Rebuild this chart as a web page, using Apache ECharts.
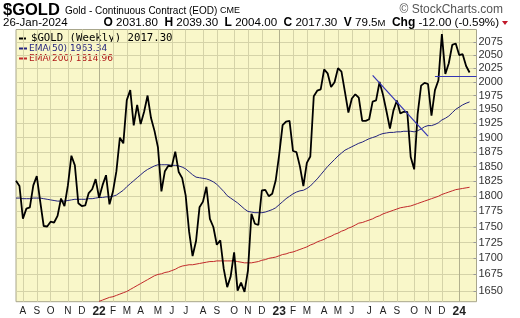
<!DOCTYPE html>
<html><head><meta charset="utf-8">
<script src="https://cdn.jsdelivr.net/npm/echarts@6/dist/echarts.min.js"></script>
<style>html,body{margin:0;padding:0;background:#fff}#c{width:520px;height:318px}</style>
</head><body><div id="c"></div>
<script>
// ---- data (weekly closes, first week ending 2021-07-23) ----
const firstWeek = [2021, 6, 23];
const closes = [
1826.0,1817.2,1763.1,1779.7,1781.8,1818.1,1833.7,1791.0,1751.4,1750.6,
1758.4,1757.0,1767.8,1796.3,1783.9,1818.4,1868.5,1852.0,1788.4,1783.9,
1784.8,1805.3,1811.7,1828.6,1797.4,1818.5,1835.3,1786.6,1807.8,1842.1,
1899.7,1889.9,1966.6,1985.0,1921.5,1957.9,1923.6,1945.6,1974.9,1934.3,
1911.7,1882.8,1808.2,1842.1,1851.3,1850.2,1875.5,1840.6,1830.3,1801.5,
1742.3,1703.6,1727.4,1781.8,1791.2,1815.8,1762.9,1749.8,1721.5,1728.6,
1683.5,1655.6,1672.0,1709.3,1650.2,1662.4,1648.3,1681.4,1771.3,1755.0,
1753.0,1809.6,1810.7,1800.2,1804.2,1826.2,1869.7,1921.7,1928.2,1929.4,
1876.6,1874.6,1850.2,1817.1,1856.3,1867.2,1973.5,1983.8,1986.2,2023.0,
2015.8,1990.5,1999.1,2025.3,2019.0,1981.6,1944.3,1969.6,1977.2,1971.0,
1929.4,1929.4,1932.3,1964.0,1966.1,1999.7,1976.1,1946.6,1915.8,1947.6,
1965.9,1942.7,1945.6,1945.6,1866.1,1845.2,1941.5,1993.0,1998.0,1996.0,
1938.5,1984.7,2003.0,2089.7,2014.5,2034.5,2069.1,2071.8,2049.8,2051.6,
2029.3,2017.3];
const ema50 = [
1797,1797,1796,1796,1796,1797,1797,1797,1796,1795,
1794,1793,1792,1792,1792,1793,1794,1795,1795,1795,
1795,1796,1796,1797,1798,1798,1799,1799,1800,1802,
1806,1810,1816,1821,1826,1831,1836,1841,1845,1848,
1851,1853,1853,1853,1853,1852,1852,1851,1849,1846,
1841,1836,1832,1831,1830,1829,1827,1824,1820,1814,
1808,1801,1797,1793,1789,1784,1779,1775,1774,1773,
1773,1773,1774,1776,1778,1781,1786,1791,1796,1800,
1804,1807,1809,1810,1813,1817,1823,1829,1836,1843,
1850,1856,1862,1868,1873,1878,1881,1884,1887,1890,
1892,1895,1898,1900,1902,1905,1907,1908,1909,1909,
1910,1910,1911,1911,1911,1910,1912,1915,1919,1921,
1921,1923,1926,1931,1934,1938,1944,1950,1954,1958,
1961,1963.34];
const ema200 = [
null,null,null,null,null,null,null,null,null,null,
null,null,null,null,null,null,null,null,null,null,
null,null,null,null,1634,1636,1638,1640,1641,1643,
1645,1647,1649,1652,1655,1658,1661,1664,1667,1670,
1673,1675,1676,1678,1679,1681,1683,1686,1688,1689,
1690,1690,1691,1692,1693,1694,1695,1695,1696,1696,
1696,1696,1696,1696,1695,1694,1693,1693,1693,1694,
1695,1697,1698,1700,1701,1702,1704,1706,1707,1709,
1710,1712,1714,1716,1718,1721,1723,1726,1728,1730,
1733,1735,1738,1740,1743,1745,1748,1750,1753,1756,
1757,1759,1761,1763,1766,1768,1771,1773,1775,1777,
1779,1781,1782,1783,1784,1786,1788,1790,1792,1794,
1796,1798,1800,1803,1805,1807,1809,1811,1812,1813,
1814,1814.96];
const yTicks = [1650,1675,1700,1725,1750,1775,1800,1825,1850,1875,1900,1925,1950,1975,2000,2025,2050,2075];
const monthLetters = ['J','F','M','A','M','J','J','A','S','O','N','D'];
// annotation lines drawn by the author: [week index, price]
const trendDown = [[103, 2012], [119, 1902.6]];
const resistance = [[121, 2011], [133, 2011]];

// ---- categories ----
const weeks = [];
const t0 = Date.UTC(firstWeek[0], firstWeek[1], firstWeek[2]);
for (let i = 0; i < closes.length; i++) weeks.push(new Date(t0 + i * 7 * 864e5).toISOString().slice(0, 10));
const cats = weeks.concat(['pad1', 'pad2']);
function monthStart(i) {
  if (i <= 0 || i >= weeks.length) return false;
  return weeks[i].slice(5, 7) !== weeks[i - 1].slice(5, 7);
}
const isMonth = (i) => monthStart(i) && weeks[i].slice(5, 7) !== '01';
const isYear = (i) => monthStart(i) && weeks[i].slice(5, 7) === '01';

const FONT = '"Liberation Sans", Arial, sans-serif';
const chart = echarts.init(document.getElementById('c'), null, {renderer: 'canvas'});
const gridLine = '#D5D3A8';

function txt(x, y, text, font, fill, align) {
  return {type: 'text', x: x, y: y, silent: true,
    style: {text: text, font: font, fill: fill || '#000', textAlign: align || 'left', textVerticalAlign: 'middle'}};
}

const option = {
  animation: false,
  textStyle: {fontFamily: FONT},
  grid: {left: 16, right: 43.5, top: 29.5, bottom: 16.3, show: true, backgroundColor: '#F9F7C9', borderColor: '#A8A68C', borderWidth: 1},
  xAxis: [{
    type: 'category', data: cats, boundaryGap: false, position: 'bottom',
    axisLine: {show: false}, axisTick: {show: false},
    axisLabel: {interval: (i) => isMonth(i), formatter: (v) => monthLetters[+v.slice(5, 7) - 1], fontSize: 10, color: '#222', margin: 5},
    splitLine: {show: true, interval: (i) => isMonth(i), lineStyle: {color: gridLine, width: 1}}
  }, {
    type: 'category', data: cats, boundaryGap: false, position: 'bottom',
    axisLine: {show: false}, axisTick: {show: false},
    axisLabel: {interval: (i) => isYear(i), formatter: (v) => v.slice(2, 4), fontSize: 12, fontWeight: 'bold', color: '#222', margin: 4},
    splitLine: {show: true, interval: (i) => isYear(i), lineStyle: {color: '#B2B08E', width: 1}}
  }],
  yAxis: {
    type: 'log', logBase: 10, position: 'right', min: 1633.5, max: 2098.7,
    axisLine: {show: false},
    axisTick: {show: true, inside: true, length: 3, customValues: yTicks, lineStyle: {color: '#999'}},
    axisLabel: {customValues: yTicks, fontSize: 11, color: '#333', margin: 2, formatter: (v) => String(v)},
    splitLine: {show: true, lineStyle: {color: gridLine, width: 1}}
  },
  series: [{
    type: 'line', name: 'EMA(200)', data: ema200, symbol: 'none', xAxisIndex: 0,
    lineStyle: {color: '#C0282A', width: 1}, z: 2
  }, {
    type: 'line', name: 'EMA(50)', data: ema50, symbol: 'none', xAxisIndex: 0,
    lineStyle: {color: '#23237E', width: 1}, z: 3
  }, {
    type: 'line', name: '$GOLD', data: closes, symbol: 'none', xAxisIndex: 0,
    lineStyle: {color: '#000', width: 1.8}, z: 4,
    markLine: {
      silent: true, symbol: 'none', animation: false, label: {show: false},
      lineStyle: {color: '#3535B5', width: 1.2, type: 'solid'},
      emphasis: {disabled: true},
      data: [
        [{coord: trendDown[0]}, {coord: trendDown[1]}],
        [{coord: resistance[0]}, {coord: resistance[1]}]
      ]
    }
  }],
  graphic: [
    txt(3, 10.5, '$GOLD', 'bold 16.5px ' + FONT),
    txt(65, 11, 'Gold - Continuous Contract (EOD)', '10px ' + FONT),
    txt(220, 11, 'CME', '9px ' + FONT),
    txt(503, 10, '\u00A9 StockCharts.com', '12px ' + FONT, '#555', 'right'),
    txt(3, 23, '26-Jan-2024', '11.5px ' + FONT),
    {type: 'text', x: 499, y: 23, silent: true,
      style: {text: '{b|O} 2031.80  {b|H} 2039.30  {b|L} 2004.00  {b|C} 2017.30  {b|V} 79.5{s|M}  {b|Chg} -12.00 (-0.59%)',
        font: '11.6px ' + FONT, fill: '#000', textAlign: 'right', textVerticalAlign: 'middle',
        rich: {b: {fontWeight: 'bold', fontSize: 12, fontFamily: FONT}, s: {fontSize: 9.5, fontFamily: FONT}}}},
    {type: 'polygon', silent: true, shape: {points: [[502, 21], [508, 21], [505, 25]]}, style: {fill: '#C0182A'}},
    {type: 'line', silent: true, shape: {x1: 19, y1: 38.5, x2: 26, y2: 38.5}, style: {stroke: '#000', lineWidth: 2}},
    txt(31, 38.5, '$GOLD (Weekly) 2017.30', '10.7px "DejaVu Sans Mono", monospace'),
    {type: 'line', silent: true, shape: {x1: 19, y1: 48.5, x2: 27, y2: 48.5}, style: {stroke: '#23237E', lineWidth: 2}},
    txt(29, 48.5, 'EMA(50) 1963.34', '9px "DejaVu Sans", Verdana, sans-serif', '#23237E'),
    {type: 'line', silent: true, shape: {x1: 19, y1: 58.5, x2: 27, y2: 58.5}, style: {stroke: '#C0282A', lineWidth: 2}},
    txt(29, 58.5, 'EMA(200) 1814.96', '9px "DejaVu Sans", Verdana, sans-serif', '#B01818')
  ]
};
chart.setOption(option);
</script>
</body></html>
